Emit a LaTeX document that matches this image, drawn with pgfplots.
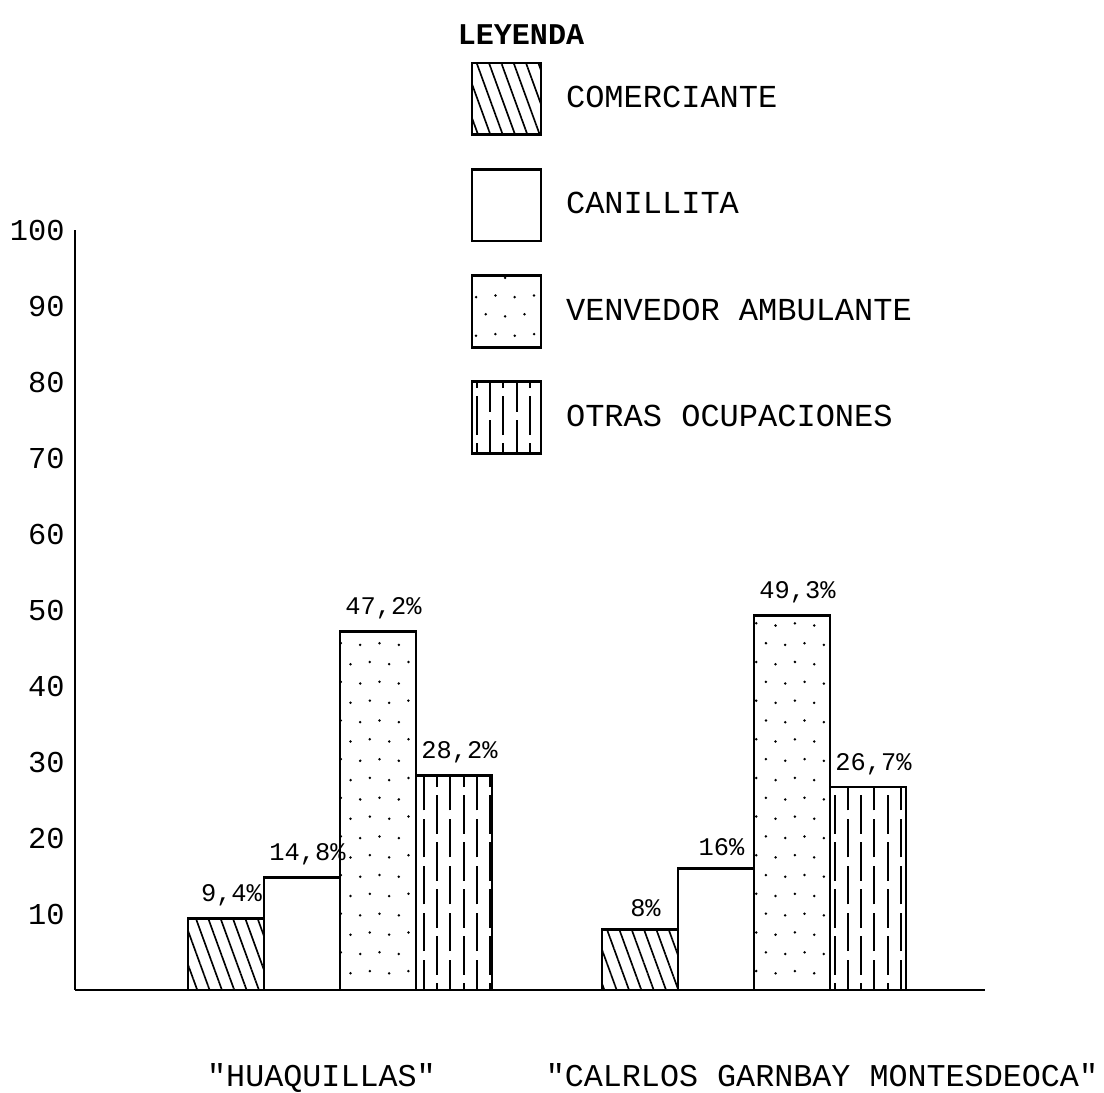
\documentclass[border=0pt]{standalone}
\usepackage{pgfplots}
\pgfplotsset{compat=1.18}
\usepackage{fontspec}
\setmainfont{Liberation Mono}[Ligatures=TeXOff]
\usetikzlibrary{patterns,patterns.meta}

\pgfdeclarepatternformonly{sdots}{\pgfqpoint{-1pt}{-1pt}}{\pgfqpoint{15pt}{15pt}}{\pgfqpoint{14pt}{14pt}}{%
  \pgfpathcircle{\pgfqpoint{1pt}{1pt}}{0.5pt}%
  \pgfpathcircle{\pgfqpoint{8pt}{1.8pt}}{0.5pt}%
  \pgfpathcircle{\pgfqpoint{4.5pt}{8pt}}{0.5pt}%
  \pgfpathcircle{\pgfqpoint{11.5pt}{8.6pt}}{0.5pt}%
  \pgfusepath{fill}}
\pgfdeclarepatternformonly{vdash}{\pgfqpoint{-0.5pt}{-0.5pt}}{\pgfqpoint{10pt}{18pt}}{\pgfqpoint{9.6pt}{17pt}}{%
  \pgfsetlinewidth{0.7pt}%
  \pgfpathmoveto{\pgfqpoint{0pt}{0pt}}\pgfpathlineto{\pgfqpoint{0pt}{14pt}}%
  \pgfpathmoveto{\pgfqpoint{4.8pt}{8.5pt}}\pgfpathlineto{\pgfqpoint{4.8pt}{17pt}}%
  \pgfpathmoveto{\pgfqpoint{4.8pt}{0pt}}\pgfpathlineto{\pgfqpoint{4.8pt}{5.5pt}}%
  \pgfusepath{stroke}}

\begin{document}
\begin{tikzpicture}
\begin{axis}[
  scale only axis, width=329.71pt, height=275.36pt,
  xmin=0, xmax=910, ymin=0, ymax=100,
  axis lines=left, axis line style={-, line width=1pt},
  ytick={10,20,...,100}, major tick length=0pt,
  /pgf/number format/assume math mode=true,
  yticklabel style={font=\fontsize{11}{13}\selectfont, inner sep=0pt, xshift=-3.6pt},
  xtick={246.5,747},
  xticklabels={"HUAQUILLAS","CALRLOS GARNBAY MONTESDEOCA"},
  xticklabel style={font=\fontsize{11.5}{13}\selectfont, anchor=north, inner sep=0pt, yshift=-26.5pt},
  ybar, bar shift=0pt, bar width=76,
  every axis plot/.append style={draw=black, line width=1pt},
  nodes near coords, point meta=explicit symbolic,
  nodes near coords style={font=\fontsize{9.2}{11}\selectfont, inner sep=0pt, anchor=south, yshift=4pt, xshift=2pt},
  clip=false,
  legend style={at={(0.4341,1.2223)}, anchor=north west, draw=none, fill=none, inner sep=0pt,
    row sep=11.5pt, column sep=8.6pt, font=\fontsize{11.6}{13}\selectfont,
    cells={anchor=west}, nodes={inner sep=0pt}},
  legend image code/.code={\draw[#1, line width=1pt] (0pt,-13pt) rectangle (25pt,13pt);},
]
\addplot[pattern={Lines[angle=-70, distance=4.2pt, line width=0.6pt]}]
  coordinates {(151,9.4) [{9,4\%}] (565,8) [{8\%}]};
\addplot[fill=white]
  coordinates {(227,14.8) [{14,8\%}] (641,16) [{16\%}]};
\addplot[pattern=sdots]
  coordinates {(303,47.2) [{47,2\%}] (717,49.3) [{49,3\%}]};
\addplot[pattern=vdash]
  coordinates {(379,28.2) [{28,2\%}] (793,26.7) [{26,7\%}]};
\legend{COMERCIANTE, CANILLITA, VENVEDOR AMBULANTE, OTRAS OCUPACIONES}
\node[font=\bfseries\fontsize{10.9}{12}\selectfont] at (axis cs:446,125.7) {LEYENDA};
\end{axis}
\pgfresetboundingbox
\path[use as bounding box] (-27.17pt,-36.96pt) rectangle (372.83pt,358.70pt);
\end{tikzpicture}
\end{document}
